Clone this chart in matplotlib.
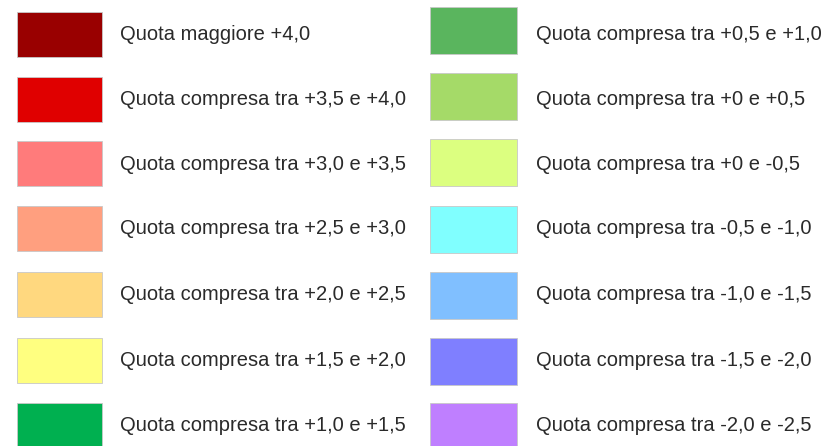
import matplotlib
matplotlib.use("Agg")
import matplotlib.pyplot as plt

left_labels = [
    "Quota maggiore +4,0",
    "Quota compresa tra +3,5 e +4,0",
    "Quota compresa tra +3,0 e +3,5",
    "Quota compresa tra +2,5 e +3,0",
    "Quota compresa tra +2,0 e +2,5",
    "Quota compresa tra +1,5 e +2,0",
    "Quota compresa tra +1,0 e +1,5",
]
left_colors = ["#990000", "#e00000", "#ff7b7b", "#ff9f7f", "#ffd87f", "#ffff80", "#00b050"]

right_labels = [
    "Quota compresa tra +0,5 e +1,0",
    "Quota compresa tra +0 e +0,5",
    "Quota compresa tra +0 e -0,5",
    "Quota compresa tra -0,5 e -1,0",
    "Quota compresa tra -1,0 e -1,5",
    "Quota compresa tra -1,5 e -2,0",
    "Quota compresa tra -2,0 e -2,5",
]
right_colors = ["#5ab55e", "#a5da68", "#dcff80", "#80ffff", "#80bfff", "#7f7fff", "#bf7fff"]

W, H = 830, 446
fig = plt.figure(figsize=(W / 100, H / 100), dpi=100)
ax = fig.add_axes([0, 0, 1, 1])
ax.set_xlim(0, W)
ax.set_ylim(H, 0)
ax.axis("off")

left_tops = [12, 77, 141, 206, 272, 338, 403]
right_tops = [7, 73, 139, 206, 272, 338, 403]
text_ys = [34.5, 99.5, 164, 229, 294.5, 360.5, 425.5]

def column(labels, colors, tops, x0, x1, tx, hgt):
    for lab, col, top, ty in zip(labels, colors, tops, text_ys):
        ax.bar(x0, hgt, width=x1 - x0, bottom=top, align="edge", color=col,
               edgecolor="#c8c8c8", linewidth=0.6)
        ax.text(tx, ty, lab, fontsize=14.5, family="Liberation Sans",
                color="#2a2a2a", va="center", ha="left")

column(left_labels, left_colors, left_tops, 17, 102, 120, 45)
column(right_labels, right_colors, right_tops, 430, 517, 536, 47)

fig.savefig("out.png", dpi=100)
